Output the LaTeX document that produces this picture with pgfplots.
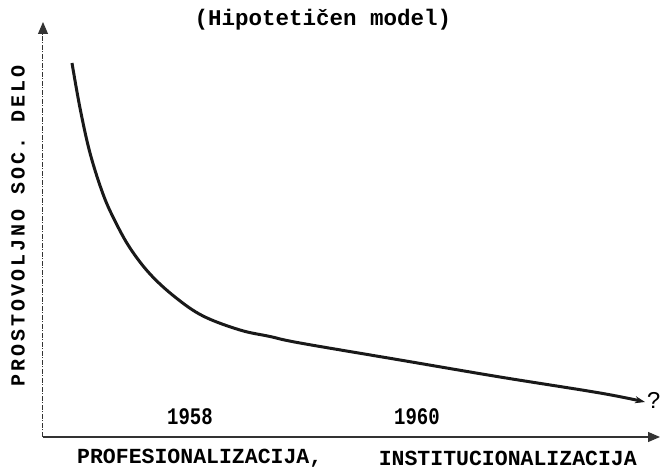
\documentclass[border=0pt]{standalone}
\usepackage{pgfplots}
\pgfplotsset{compat=1.18}
\usepackage{fontspec}
\setmainfont{Liberation Mono}
\usetikzlibrary{arrows.meta}
\begin{document}
\begin{tikzpicture}
\begin{axis}[
 scale only axis, width=617pt, height=415pt,
 xmin=43, xmax=660, ymin=34, ymax=449,
 axis x line=bottom, axis y line=left,
 xtick=\empty, ytick=\empty, clip=false,
 x axis line style={line width=1.1pt, black!80, -{Triangle[length=12pt,width=10pt]}},
 y axis line style={line width=1pt, black!80, dash pattern=on 5pt off 1.5pt on 1pt off 1.5pt, -{Triangle[length=12pt,width=10pt]}},
]
\addplot[line width=3pt, black!90, smooth, tension=0.6, -{Stealth[length=10pt,width=7pt]}] coordinates {
(72,408) (80,363) (90,318) (103,277) (115,250) (130,223) (150,197) (175,174) (203,155) (240,141) (270,134.5) (300,128) (400,111) (500,94) (600,78) (645,69)
};
\node[inner sep=0, font=\fontsize{22.5}{26}\selectfont\bfseries] at (axis cs:323,451) {(Hipotetičen model)};
\node[inner sep=0, rotate=90, font=\fontsize{20}{24}\selectfont\bfseries\addfontfeature{LetterSpace=15}] at (axis cs:18,245) {PROSTOVOLJNO SOC. DELO};
\node[inner sep=0, yscale=1.25, font=\fontsize{19}{22}\selectfont\bfseries] at (axis cs:190,54) {1958};
\node[inner sep=0, yscale=1.25, font=\fontsize{19}{22}\selectfont\bfseries] at (axis cs:417,54) {1960};
\node[inner sep=0, anchor=west, font=\fontsize{21.5}{24}\selectfont\bfseries] at (axis cs:77,13) {PROFESIONALIZACIJA,};
\node[inner sep=0, anchor=east, font=\fontsize{21.5}{24}\selectfont\bfseries] at (axis cs:637,13) {INSTITUCIONALIZACIJA};
\node[inner sep=0, font=\fontsize{24}{26}\selectfont] at (axis cs:654,71) {?};
\coordinate (BL) at (axis cs:0,0);
\coordinate (TR) at (axis cs:662,471);
\end{axis}
\pgfresetboundingbox
\useasboundingbox (BL) rectangle (TR);
\end{tikzpicture}
\end{document}
